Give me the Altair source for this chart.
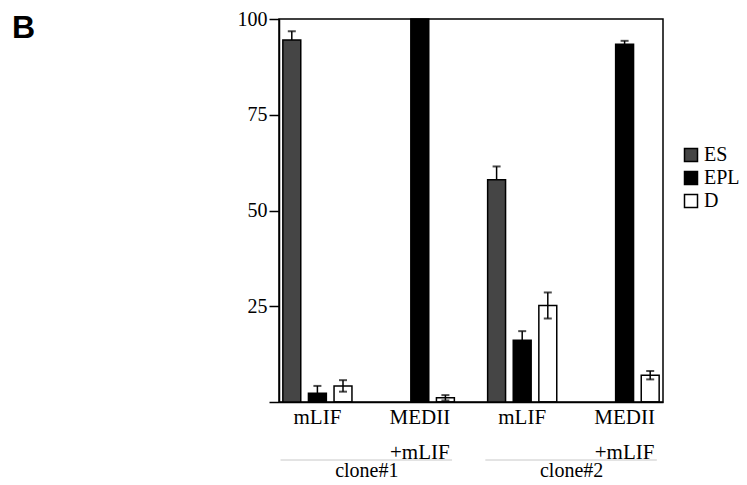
import altair as alt
import pandas as pd

# ---- data ----
clones = ["clone#1", "clone#1", "clone#2", "clone#2"]
conditions = ["mLIF", "MEDII/+mLIF", "mLIF", "MEDII/+mLIF"]
series = ["ES", "EPL", "D"]
es_vals = [94.5, 0.0, 58.0, 0.0]
es_err = [2.3, 0.0, 3.5, 0.0]
epl_vals = [2.3, 100.0, 16.1, 93.4]
epl_err = [1.9, 0.0, 2.4, 0.9]
d_vals = [4.2, 1.1, 25.2, 7.0]
d_err = [1.5, 0.7, 3.4, 1.1]
series_colors = ["#454545", "#000000", "transparent"]

groups = [f"{c}|{k}" for c, k in zip(clones, conditions)]
rows = []
for s, vals, errs in [("ES", es_vals, es_err), ("EPL", epl_vals, epl_err), ("D", d_vals, d_err)]:
    for g, v, e in zip(groups, vals, errs):
        rows.append({"group": g, "series": s, "value": v, "err": e,
                     "lo": v - e, "hi": v + e})
df = pd.DataFrame(rows)

clone_names = ["clone#1", "clone#2"]
clone_df = pd.DataFrame({
    "clone": clone_names,
    "first": [groups[clones.index(c)] for c in clone_names],
    "last": [groups[len(clones) - 1 - clones[::-1].index(c)] for c in clone_names],
})

W, H = 384, 383
SERIF = "Liberation Serif"

xscale = alt.Scale(domain=groups, paddingInner=0.25, paddingOuter=0)
offscale = alt.Scale(domain=series, paddingInner=0.3, paddingOuter=0.15)
yscale = alt.Scale(domain=[0, 100], nice=False)

xaxis = alt.Axis(title=None, ticks=False, labelAngle=0,
                 labelExpr="split(split(datum.value, '|')[1], '/')",
                 labelFont=SERIF, labelFontSize=21, labelLineHeight=35,
                 labelPadding=4, labelBaseline="top", labelColor="black",
                 domainColor="black", domainWidth=1.5)
yaxis = alt.Axis(title=None, values=[0, 25, 50, 75, 100], grid=False,
                 labelExpr="datum.value == 0 ? '' : datum.label",
                 tickSize=10, tickWidth=1.5, tickColor="black",
                 labelFont=SERIF, labelFontSize=20, labelPadding=2,
                 labelColor="black", domainColor="black", domainWidth=1.5)

base = alt.Chart(df)
xenc = alt.X("group:N", scale=xscale, axis=xaxis, sort=groups)
oenc = alt.XOffset("series:N", scale=offscale, sort=series)

err_rule = base.transform_filter("datum.err > 0").mark_rule(
    color="black", strokeWidth=1.5).encode(
    x=xenc, xOffset=oenc,
    y=alt.Y("lo:Q", scale=yscale, axis=yaxis), y2="hi:Q")
cap_hi = base.transform_filter("datum.err > 0").mark_tick(
    color="black", size=8, thickness=2).encode(
    x=xenc, xOffset=oenc, y=alt.Y("hi:Q", scale=yscale, axis=yaxis))
cap_lo = base.transform_filter("datum.err > 0").mark_tick(
    color="black", size=8, thickness=2).encode(
    x=xenc, xOffset=oenc, y=alt.Y("lo:Q", scale=yscale, axis=yaxis))

bars = base.transform_filter("datum.value > 0").mark_bar(
    stroke="black", strokeWidth=1.5).encode(
    x=xenc, xOffset=oenc,
    y=alt.Y("value:Q", scale=yscale, axis=yaxis),
    fill=alt.Fill("series:N", sort=series,
                  scale=alt.Scale(domain=series, range=series_colors),
                  legend=alt.Legend(title=None, orient="none",
                                    legendX=402, legendY=126,
                                    symbolType="square", symbolSize=169,
                                    symbolStrokeColor="black",
                                    symbolStrokeWidth=1.5,
                                    labelFont=SERIF, labelFontSize=20,
                                    labelColor="black", labelOffset=3,
                                    rowPadding=3, padding=0)))

clone_base = alt.Chart(clone_df)
clone_rule = clone_base.mark_rule(color="#c8c8c8", strokeWidth=1).encode(
    x=alt.X("first:N", scale=xscale, axis=xaxis, sort=groups, bandPosition=0.02),
    x2=alt.X2("last:N", bandPosition=0.92),
    y=alt.value(441))
clone_text = clone_base.mark_text(font=SERIF, fontSize=20, color="black",
                                  baseline="middle", dx=11).encode(
    x=alt.X("first:N", scale=xscale, axis=xaxis, sort=groups, bandPosition=1),
    y=alt.value(452), text="clone:N")

panel = alt.Chart(pd.DataFrame({"t": ["B"]})).mark_text(
    font="Liberation Sans", fontWeight="bold", fontSize=32, color="black",
    align="left", baseline="alphabetic").encode(
    x=alt.value(-267), y=alt.value(19), text="t:N")

chart = alt.layer(err_rule, cap_hi, cap_lo, bars, clone_rule, clone_text, panel).properties(
    width=W, height=H,
    background="white",
    autosize=alt.AutoSizeParams(type="none"),
    padding={"left": 271, "top": 11, "right": 76, "bottom": 84},
).configure_view(stroke="black", strokeWidth=1.5)

chart.save("out.html", embed_options={"renderer": "svg", "actions": False})
